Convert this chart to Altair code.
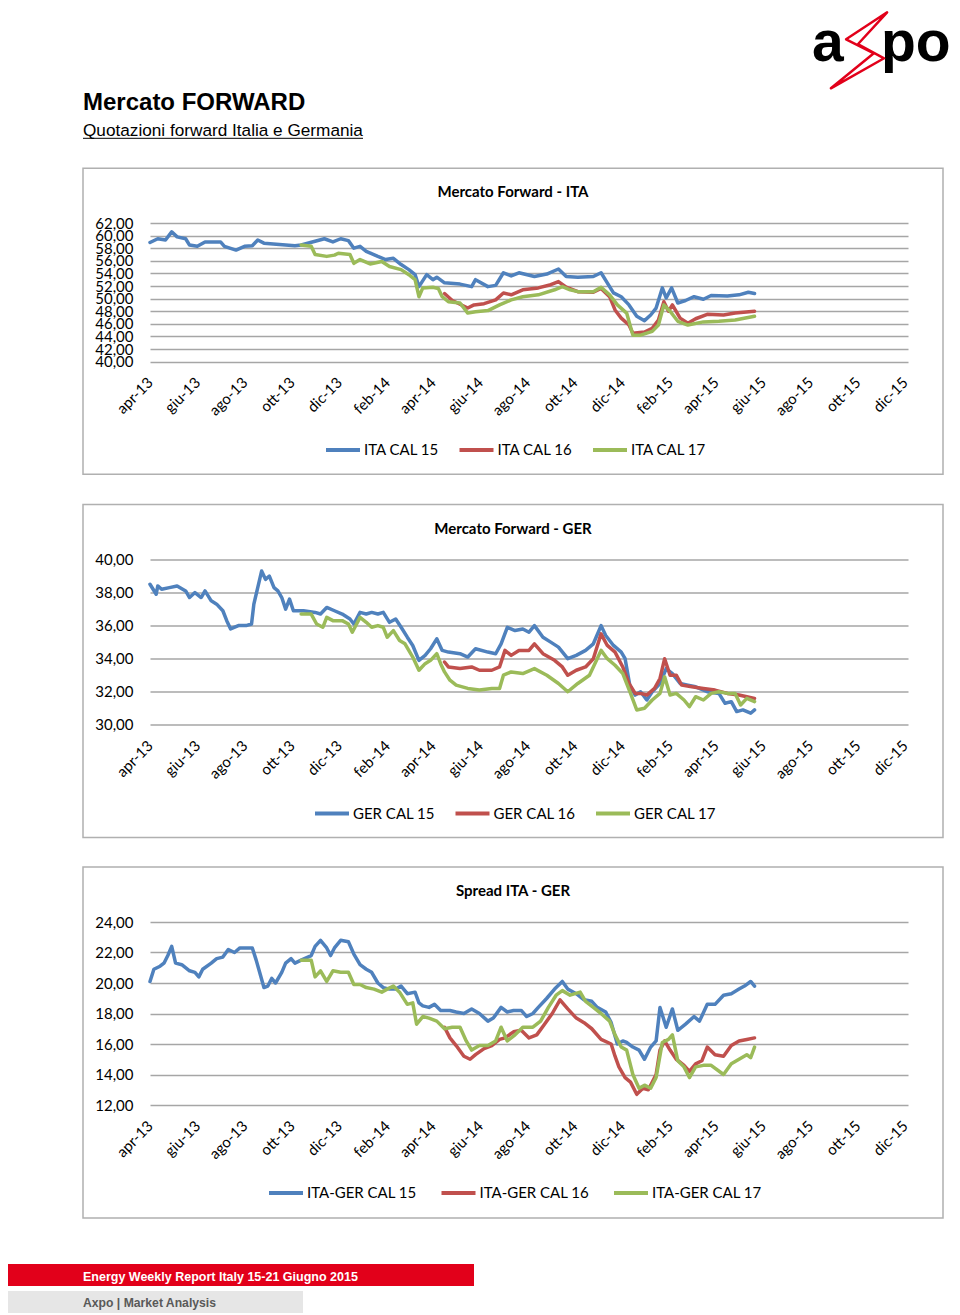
import altair as alt
import pandas as pd

START = "2013-04-01"  # day 0 of every "days" list below

# ---------------- ITA forward (EUR/MWh) ----------------
ITA15_DAYS = [0,10,20,28,35,46,51,61,71,91,96,111,122,132,139,147,167,187,195,213,225,236,246,256,263,271,279,294,304,314,324,334,342,347,357,365,370,380,400,415,420,436,446,456,466,476,496,512,527,537,552,572,582,590,598,608,618,628,638,646,653,661,666,673,681,691,702,714,724,745,760,772,780]
ITA15_VALS = [58.9,59.5,59.3,60.6,59.8,59.5,58.5,58.3,59.0,59.0,58.3,57.7,58.3,58.4,59.3,58.8,58.6,58.4,58.5,59.1,59.5,59.0,59.5,59.2,58.0,58.3,57.5,56.7,56.2,56.4,55.4,54.6,53.8,51.9,53.8,53.0,53.4,52.5,52.3,51.9,53.0,51.9,52.1,54.1,53.6,54.1,53.5,53.9,54.7,53.5,53.4,53.5,54.1,52.5,50.9,50.3,49.0,47.2,46.5,47.4,48.5,51.7,50.1,51.7,49.3,49.7,50.3,49.9,50.5,50.4,50.6,51.0,50.8]
ITA16_DAYS = [380,390,400,410,418,431,446,456,466,481,501,517,527,537,552,572,582,593,600,608,618,623,638,648,656,663,669,674,684,694,704,719,740,755,780]
ITA16_VALS = [50.8,49.7,49.1,48.5,49.0,49.2,49.8,50.9,50.6,51.4,51.7,52.2,52.7,51.8,51.1,51.0,51.6,50.3,48.2,46.9,45.8,44.5,44.7,45.3,46.6,49.5,48.0,49.0,46.9,46.1,46.8,47.5,47.4,47.7,48.0]
ITA17_DAYS = [195,208,213,228,238,243,258,263,271,284,299,309,324,334,342,347,352,365,372,377,385,400,410,420,436,451,466,481,501,522,532,542,552,572,582,593,603,615,623,633,648,656,663,671,681,694,714,734,755,780]
ITA17_VALS = [58.5,58.3,57.0,56.7,56.9,57.2,57.0,55.6,56.2,55.5,55.9,55.1,54.6,53.8,53.0,50.3,51.7,51.8,51.6,50.3,49.5,49.3,47.7,47.9,48.1,49.0,49.8,50.3,50.6,51.4,51.9,51.4,51.1,51.1,51.8,50.6,49.0,47.7,44.2,44.2,44.8,45.8,49.0,48.0,46.4,45.8,46.3,46.4,46.6,47.2]

# ---------------- GER forward ----------------
GER15_DAYS = [0,8,10,15,25,35,46,51,58,66,71,79,86,94,99,104,114,124,131,134,139,144,149,154,160,165,170,175,180,185,198,213,220,228,238,248,258,263,271,279,286,294,301,309,317,324,332,339,347,355,362,370,377,385,400,410,420,436,446,453,461,471,481,489,496,507,517,527,539,550,562,572,582,588,598,608,613,619,626,633,641,648,658,666,674,684,694,704,719,734,742,750,757,765,775,780]
GER15_VALS = [38.5,37.9,38.4,38.2,38.3,38.4,38.1,37.7,38.0,37.7,38.1,37.5,37.3,36.9,36.3,35.8,36.0,36.0,36.1,37.3,38.3,39.3,38.8,39.0,38.3,38.1,37.7,37.0,37.6,36.9,36.9,36.8,36.7,37.1,36.9,36.7,36.4,36.1,36.8,36.7,36.8,36.7,36.8,36.2,36.4,35.9,35.3,34.8,33.9,34.2,34.6,35.2,34.5,34.4,34.3,34.1,34.6,34.4,34.3,34.9,35.9,35.7,35.8,35.6,36.0,35.3,35.0,34.7,34.0,34.2,34.5,34.9,36.0,35.4,34.8,34.4,34.0,32.4,31.8,32.0,31.5,32.0,32.5,33.4,33.1,32.5,32.4,32.3,32.0,31.9,31.3,31.4,30.8,30.9,30.7,30.9]
GER16_DAYS = [380,385,400,415,425,441,451,458,466,476,489,496,507,522,532,539,550,562,572,582,590,600,610,618,626,633,641,651,658,664,671,679,686,699,714,729,745,760,770,780]
GER16_VALS = [33.8,33.5,33.4,33.5,33.3,33.3,33.5,34.5,34.2,34.5,34.5,34.9,34.3,33.9,33.5,33.0,33.3,33.5,34.0,35.5,34.8,34.4,33.5,32.5,31.9,31.9,31.8,32.2,32.8,34.0,33.0,33.0,32.4,32.3,32.2,32.1,31.9,31.8,31.7,31.6]
GER17_DAYS = [195,208,215,223,228,236,248,256,261,271,279,286,294,301,306,314,322,329,339,347,355,362,370,375,380,387,395,410,425,441,451,456,466,481,496,512,527,539,552,567,582,590,600,610,620,628,638,648,658,664,671,679,689,696,704,714,724,734,745,755,762,770,780]
GER17_VALS = [36.7,36.7,36.1,35.9,36.5,36.3,36.3,36.1,35.6,36.5,36.2,35.9,36.0,35.9,35.3,35.7,35.1,34.9,34.1,33.3,33.7,33.9,34.3,33.7,33.2,32.7,32.4,32.2,32.1,32.2,32.2,33.0,33.2,33.1,33.4,33.0,32.5,32.0,32.5,33.0,34.5,34.0,33.6,33.1,31.9,30.9,31.0,31.5,31.9,32.9,31.8,31.9,31.5,31.1,31.7,31.5,31.9,32.0,31.9,31.9,31.2,31.6,31.4]

# ---------------- Spread ITA - GER ----------------
SP15_DAYS = [0,5,13,18,23,28,33,41,51,58,63,68,79,86,94,101,109,116,124,132,137,142,147,152,157,162,170,175,182,187,195,208,213,220,228,233,238,246,256,263,271,279,286,294,301,309,317,324,332,342,347,352,360,367,375,387,395,405,415,425,436,443,453,461,469,479,486,494,501,512,522,532,539,550,560,570,577,588,595,603,610,615,623,631,638,646,653,658,666,674,681,691,702,709,719,729,740,750,760,767,775,780]
SP15_VALS = [20.1,20.9,21.1,21.3,21.8,22.4,21.3,21.2,20.8,20.7,20.4,20.9,21.3,21.6,21.7,22.2,22.0,22.3,22.3,22.3,21.5,20.6,19.7,19.8,20.3,20.0,20.7,21.3,21.6,21.3,21.5,21.8,22.4,22.8,22.3,21.8,22.3,22.8,22.7,21.9,21.2,20.9,20.7,20.0,19.7,19.6,19.6,19.8,19.3,19.4,18.7,18.5,18.4,18.6,18.2,18.2,18.1,18.0,18.3,18.0,17.5,17.7,18.4,18.1,18.2,18.2,17.8,18.0,18.4,19.0,19.6,20.1,19.6,19.3,18.9,18.8,18.4,18.1,17.4,16.0,16.2,16.1,15.8,15.6,15.0,15.8,16.2,18.4,17.1,18.3,16.9,17.3,17.8,17.5,18.6,18.6,19.2,19.3,19.6,19.8,20.1,19.8]
SP16_DAYS = [380,387,395,405,413,420,431,441,451,458,469,479,489,499,509,519,529,539,550,560,570,582,595,600,605,613,620,628,636,643,653,658,664,671,679,689,696,704,712,719,729,740,750,760,770,780]
SP16_VALS = [17.1,16.4,15.9,15.2,15.0,15.3,15.7,15.9,16.3,16.4,16.8,16.9,16.4,16.6,17.3,18.0,18.9,18.3,17.7,17.4,17.0,16.3,16.0,15.2,14.5,13.8,13.5,12.7,13.1,13.0,14.0,15.6,16.2,15.6,15.0,14.6,14.2,14.7,14.9,15.8,15.3,15.2,15.9,16.2,16.3,16.4]
SP17_DAYS = [195,208,213,220,228,236,246,256,263,271,279,289,299,306,314,322,332,339,344,352,360,370,380,390,400,408,415,425,436,446,453,461,471,481,494,504,514,524,532,542,555,562,572,582,593,600,608,615,623,631,638,646,653,661,669,674,681,689,696,704,714,724,740,750,760,770,775,780]
SP17_VALS = [21.5,21.5,20.4,20.8,20.1,20.8,20.7,20.7,19.9,19.9,19.7,19.6,19.4,19.6,19.8,19.4,18.6,18.7,17.3,17.8,17.7,17.5,17.0,17.1,17.1,16.2,15.6,15.9,15.9,16.2,17.1,16.2,16.6,17.1,17.1,17.5,18.4,19.2,19.5,19.2,19.4,18.8,18.4,18.0,17.5,16.6,15.8,15.6,14.0,13.1,13.3,13.1,13.8,16.1,16.3,16.6,14.9,14.5,13.8,14.5,14.6,14.6,14.0,14.7,15.0,15.3,15.1,15.8]

ITA_NAMES = ["ITA CAL 15", "ITA CAL 16", "ITA CAL 17"]
GER_NAMES = ["GER CAL 15", "GER CAL 16", "GER CAL 17"]
SPREAD_NAMES = ["ITA-GER CAL 15", "ITA-GER CAL 16", "ITA-GER CAL 17"]
COLORS = ["#4F81BD", "#C0504D", "#9BBB59"]

ITA_TICKS = [40, 42, 44, 46, 48, 50, 52, 54, 56, 58, 60, 62]
GER_TICKS = [30, 32, 34, 36, 38, 40]
SPREAD_TICKS = [12, 14, 16, 18, 20, 22, 24]
X_TICKS = [(2013, 4), (2013, 6), (2013, 8), (2013, 10), (2013, 12), (2014, 2), (2014, 4), (2014, 6),
           (2014, 8), (2014, 10), (2014, 12), (2015, 2), (2015, 4), (2015, 6), (2015, 8), (2015, 10), (2015, 12)]
MESI = ["gen", "feb", "mar", "apr", "mag", "giu", "lug", "ago", "set", "ott", "nov", "dic"]

PLOT_W = 758
LABEL_FONT = "Lato"


def make_frame(parts):
    frames = []
    for days, vals, name in parts:
        frames.append(pd.DataFrame({
            "data": pd.Timestamp(START) + pd.to_timedelta(days, unit="D"),
            "valore": vals,
            "serie": name,
        }))
    return pd.concat(frames, ignore_index=True)


ONE = pd.DataFrame({"k": [0]})


def text_layer(txt, x, y, size, weight="normal", font=LABEL_FONT, color="#000000", align="left"):
    return alt.Chart(ONE).mark_text(
        text=txt, font=font, fontSize=size, fontWeight=weight, color=color,
        align=align, baseline="alphabetic"
    ).encode(x=alt.value(x), y=alt.value(y))


def rect_layer(x1, x2, y1, y2, color, fill_opacity=1.0, stroke_color=None, stroke_width=0):
    kw = dict(color=color, fillOpacity=fill_opacity)
    if stroke_color is not None:
        kw.update(stroke=stroke_color, strokeWidth=stroke_width)
    return alt.Chart(ONE).mark_rect(**kw).encode(
        x=alt.value(x1), x2=alt.value(x2), y=alt.value(y1), y2=alt.value(y2))


def rule_layer(x1, x2, y1, y2, color, width=1):
    return alt.Chart(ONE).mark_rule(color=color, strokeWidth=width).encode(
        x=alt.value(x1), x2=alt.value(x2), y=alt.value(y1), y2=alt.value(y2))


month_expr = "[" + ",".join("'%s'" % m for m in MESI) + "][month(datum.value)] + '-' + timeFormat(datum.value, '%y')"

x_enc = alt.X(
    "data:T",
    scale=alt.Scale(domain=[alt.DateTime(year=2013, month=4, date=1), alt.DateTime(year=2015, month=12, date=5)]),
    axis=alt.Axis(
        values=[alt.DateTime(year=y, month=m, date=1) for y, m in X_TICKS],
        labelExpr=month_expr, labelAngle=315, labelAlign="right", labelBaseline="middle",
        labelFont=LABEL_FONT, labelFontSize=15, labelColor="#000000", labelPadding=18,
        labelOverlap=False, labelFlush=False, grid=False, domain=False, ticks=False, title=None,
    ),
)


def lines_layer(df, names, ticks, legend_x, legend_y, col_pad):
    return alt.Chart(df).mark_line(strokeWidth=3.5, strokeJoin="round", strokeCap="round").encode(
        x=x_enc,
        y=alt.Y(
            "valore:Q",
            scale=alt.Scale(domain=[ticks[0], ticks[-1]], nice=False, zero=False),
            axis=alt.Axis(
                values=ticks, labelExpr="replace(format(datum.value, '.2f'), '.', ',')",
                labelFont=LABEL_FONT, labelFontSize=15, labelColor="#000000", labelPadding=17,
                labelOverlap=False, labelBound=False,
                grid=True, gridColor="#A6A6A6", gridWidth=1.6, domain=False, ticks=False,
                labelFlush=False, title=None,
            ),
        ),
        color=alt.Color(
            "serie:N",
            scale=alt.Scale(domain=names, range=COLORS),
            legend=alt.Legend(
                orient="none", legendX=legend_x, legendY=legend_y, direction="horizontal",
                title=None, symbolType="stroke", symbolStrokeWidth=4, symbolSize=1156,
                labelFont=LABEL_FONT, labelFontSize=15, labelColor="#000000",
                columnPadding=col_pad, labelOffset=2, padding=0,
            ),
        ),
    )


df_ita = make_frame([(ITA15_DAYS, ITA15_VALS, ITA_NAMES[0]), (ITA16_DAYS, ITA16_VALS, ITA_NAMES[1]),
                     (ITA17_DAYS, ITA17_VALS, ITA_NAMES[2])])
df_ger = make_frame([(GER15_DAYS, GER15_VALS, GER_NAMES[0]), (GER16_DAYS, GER16_VALS, GER_NAMES[1]),
                     (GER17_DAYS, GER17_VALS, GER_NAMES[2])])
df_sp = make_frame([(SP15_DAYS, SP15_VALS, SPREAD_NAMES[0]), (SP16_DAYS, SP16_VALS, SPREAD_NAMES[1]),
                    (SP17_DAYS, SP17_VALS, SPREAD_NAMES[2])])

BOX = "#B0B0B0"
RED = "#E2001A"
BOLT = "M0.74,-1L-0.34,-0.29L0.39,0.08L-0.74,1L0.66,0.21L-0.03,-0.16Z"

logo_bolt = alt.Chart(ONE).mark_point(
    shape=BOLT, size=5776, filled=False, stroke=RED, strokeWidth=2.5, strokeJoin="round", opacity=1
).encode(x=alt.value(709), y=alt.value(-172.7))

panel1 = alt.layer(
    rect_layer(-142, -141, 0, 1, "#FFFFFF"),          # left-edge anchor (same in every panel)
    rect_layer(0, 1, -224.7, -223.7, "#FFFFFF"),      # top-edge anchor
    rect_layer(-67, 793, -54.7, 251.3, "#FFFFFF", 0, BOX, 1.5),
    text_layer("a", 662, -162.2, 57, "bold", "Liberation Sans"),
    text_layer("po", 731, -162.2, 57, "bold", "Liberation Sans"),
    logo_bolt,
    text_layer("Mercato FORWARD", -67, -112.7, 24, "bold", "Liberation Sans"),
    text_layer("Quotazioni forward Italia e Germania", -67, -87.2, 17.2, "normal", "Liberation Sans"),
    rule_layer(-67, 213, -84.7, -84.7, "#000000", 1),
    text_layer("Mercato Forward - ITA", 363, -25.7, 15, "bold", align="center"),
    lines_layer(df_ita, ITA_NAMES, ITA_TICKS, 174, 208, 11.5),
).properties(width=PLOT_W, height=138.6)

panel2 = alt.layer(
    rect_layer(-142, -141, 0, 1, "#FFFFFF"),
    rect_layer(-67, 793, -55, 278, "#FFFFFF", 0, BOX, 1.5),
    text_layer("Mercato Forward - GER", 363, -26, 15, "bold", align="center"),
    lines_layer(df_ger, GER_NAMES, GER_TICKS, 163, 235, 12.5),
).properties(width=PLOT_W, height=165.3)

panel3 = alt.layer(
    rect_layer(-67, 793, -55, 296, "#FFFFFF", 0, BOX, 1.5),
    text_layer("Spread ITA - GER", 363, -26, 15, "bold", align="center"),
    lines_layer(df_sp, SPREAD_NAMES, SPREAD_TICKS, 117, 252, 16.5),
    rect_layer(-142, 324, 342, 364, RED),
    text_layer("Energy Weekly Report Italy 15-21 Giugno 2015", -67, 358.5, 12.5, "bold", "Liberation Sans", "#FFFFFF"),
    rect_layer(-142, 153, 369, 391, "#E6E6E6"),
    text_layer("Axpo | Market Analysis", -67, 384.7, 12.2, "bold", "Liberation Sans", "#595959"),
).properties(width=PLOT_W, height=183)

chart = alt.vconcat(panel1, panel2, panel3, spacing=27.5).resolve_scale(
    color="independent", x="independent", y="independent"
).resolve_legend(color="independent").properties(
    padding={"top": -10, "left": 0, "right": 0, "bottom": 0}, background="#FFFFFF"
).configure_view(strokeWidth=0)

chart.save("out.html", embed_options={"renderer": "svg", "actions": False})
